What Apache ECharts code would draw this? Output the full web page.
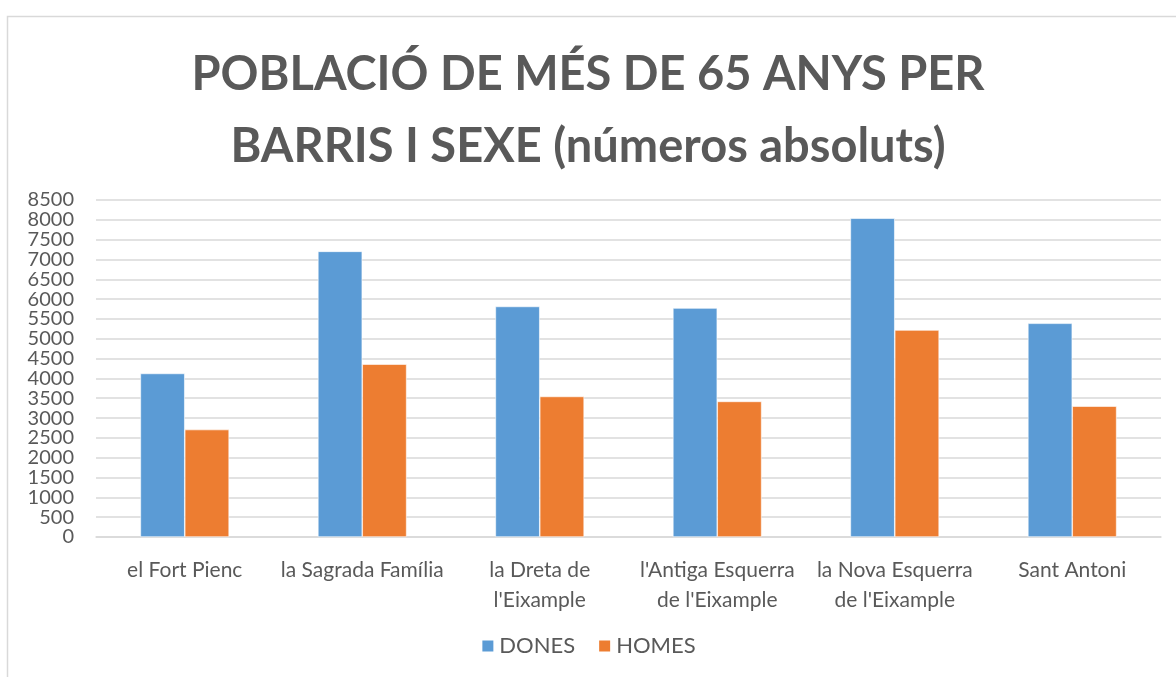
<!DOCTYPE html>
<html>
<head>
<meta charset="utf-8">
<script src="https://cdn.jsdelivr.net/npm/echarts@6/dist/echarts.min.js"></script>
<style>
html,body{margin:0;padding:0;background:#fff;}
#chart{width:1176px;height:677px;}
</style>
</head>
<body>
<div id="chart"></div>
<script>
const categories = ['el Fort Pienc', 'la Sagrada Família', 'la Dreta de\nl\'Eixample', 'l\'Antiga Esquerra\nde l\'Eixample', 'la Nova Esquerra\nde l\'Eixample', 'Sant Antoni'];
const dones = [4125, 7205, 5815, 5775, 8040, 5390];
const homes = [2710, 4360, 3545, 3420, 5220, 3300];
const seriesNames = ['DONES', 'HOMES'];
const titleText = 'POBLACIÓ DE MÉS DE 65 ANYS PER\nBARRIS I SEXE (números absoluts)';

const FONT = 'Lato, "Open Sans", sans-serif';
const chart = echarts.init(document.getElementById('chart'), null, {renderer: 'canvas'});
chart.setOption({
  animation: false,
  backgroundColor: '#fff',
  title: {
    text: titleText,
    left: 'center',
    top: 34,
    textStyle: {fontFamily: FONT, fontWeight: 'bold', fontSize: 47, color: '#595959', lineHeight: 72}
  },
  legend: {
    data: seriesNames,
    bottom: 15,
    left: 'center',
    itemWidth: 13,
    itemHeight: 13,
    itemGap: 22,
    icon: 'rect',
    textStyle: {fontFamily: FONT, fontSize: 22, color: '#595959'}
  },
  grid: {left: 96, right: 15, top: 200, bottom: 140},
  xAxis: {
    type: 'category',
    data: categories,
    axisLine: {lineStyle: {color: '#d9d9d9', width: 1.5}},
    axisTick: {show: false},
    axisLabel: {fontFamily: FONT, fontSize: 21, color: '#595959', margin: 18, lineHeight: 30, interval: 0}
  },
  yAxis: {
    type: 'value',
    min: 0, max: 8500, interval: 500,
    axisLine: {show: false},
    axisTick: {show: false},
    splitLine: {lineStyle: {color: '#d9d9d9', width: 1.5}},
    axisLabel: {fontFamily: FONT, fontSize: 20, color: '#595959', margin: 22, formatter: v => String(v)}
  },
  series: [
    {name: seriesNames[0], type: 'bar', data: dones, barGap: '0%', barCategoryGap: '50%',
     itemStyle: {color: '#5b9bd5', borderColor: '#ffffff', borderWidth: 0.6}},
    {name: seriesNames[1], type: 'bar', data: homes,
     itemStyle: {color: '#ed7d31', borderColor: '#ffffff', borderWidth: 0.6}}
  ],
  graphic: [
    {type: 'polyline', shape: {points: [[7.5, 677], [7.5, 16.5], [1176, 16.5]]}, style: {stroke: '#d9d9d9', lineWidth: 1.5, fill: null}, silent: true}
  ]
});
</script>
</body>
</html>
